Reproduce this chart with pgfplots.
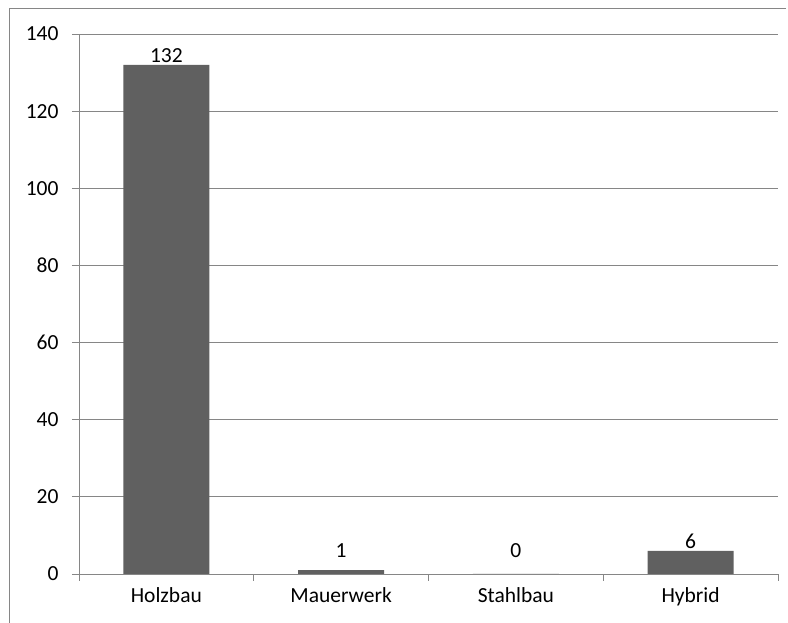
\documentclass[border=0pt]{standalone}
\usepackage{fontspec}
\setmainfont{Carlito}
\usepackage{pgfplots}
\usepackage{pgfplotstable}
\pgfplotsset{compat=1.18}
\definecolor{axisgray}{RGB}{134,134,134}
\definecolor{bargray}{RGB}{96,96,96}
\pgfplotsset{/pgf/number format/assume math mode=true}
% x: category index, y: count, dy: extra lift of the value label (bp)
\pgfplotstableread{
x y dy
0 132 0
1 1 10
2 0 14
3 6 0
}\bauweise
\begin{document}
\begin{tikzpicture}[x=1bp,y=1bp]
\useasboundingbox (-79,-49) rectangle (709,574);
% chart frame (left and top edges)
\draw[axisgray, line width=1bp] (-69,-60) -- (-69,565) -- (707,565);
\begin{axis}[
  at={(0,0)}, anchor=south west,
  scale only axis, width=699bp, height=540bp,
  xmin=-0.5, xmax=3.5, ymin=0, ymax=140,
  ytick={0,20,...,140},
  % tick marks sit on the category boundaries
  xtick={-0.5,0.5,1.5,2.5,3.5},
  xticklabels={},
  % category names sit at the bar centres, without tick marks
  extra x ticks={0,1,2,3},
  extra x tick labels={Holzbau, Mauerwerk, Stahlbau, Hybrid},
  extra x tick style={grid=none, major tick length=0pt},
  axis x line*=bottom, axis y line*=left,
  axis line style={axisgray, line width=0.8bp, -},
  ymajorgrids, grid style={axisgray, line width=0.8bp},
  tick align=outside, major tick length=7bp,
  tick style={axisgray, line width=0.8bp},
  tick label style={font=\fontsize{21.5bp}{25bp}\selectfont, text=black},
  yticklabel style={xshift=-10bp},
  xticklabel style={yshift=-10bp},
  ybar, bar width=86bp, bar shift=0pt,
  nodes near coords,
  visualization depends on={\thisrow{dy} \as \labeldy},
  every node near coord/.append style={font=\fontsize{21.5bp}{25bp}\selectfont, text=black, inner sep=2bp, yshift=\labeldy bp},
]
\addplot[fill=bargray, draw=none] table[x=x, y=y] {\bauweise};
\end{axis}
\end{tikzpicture}
\end{document}
